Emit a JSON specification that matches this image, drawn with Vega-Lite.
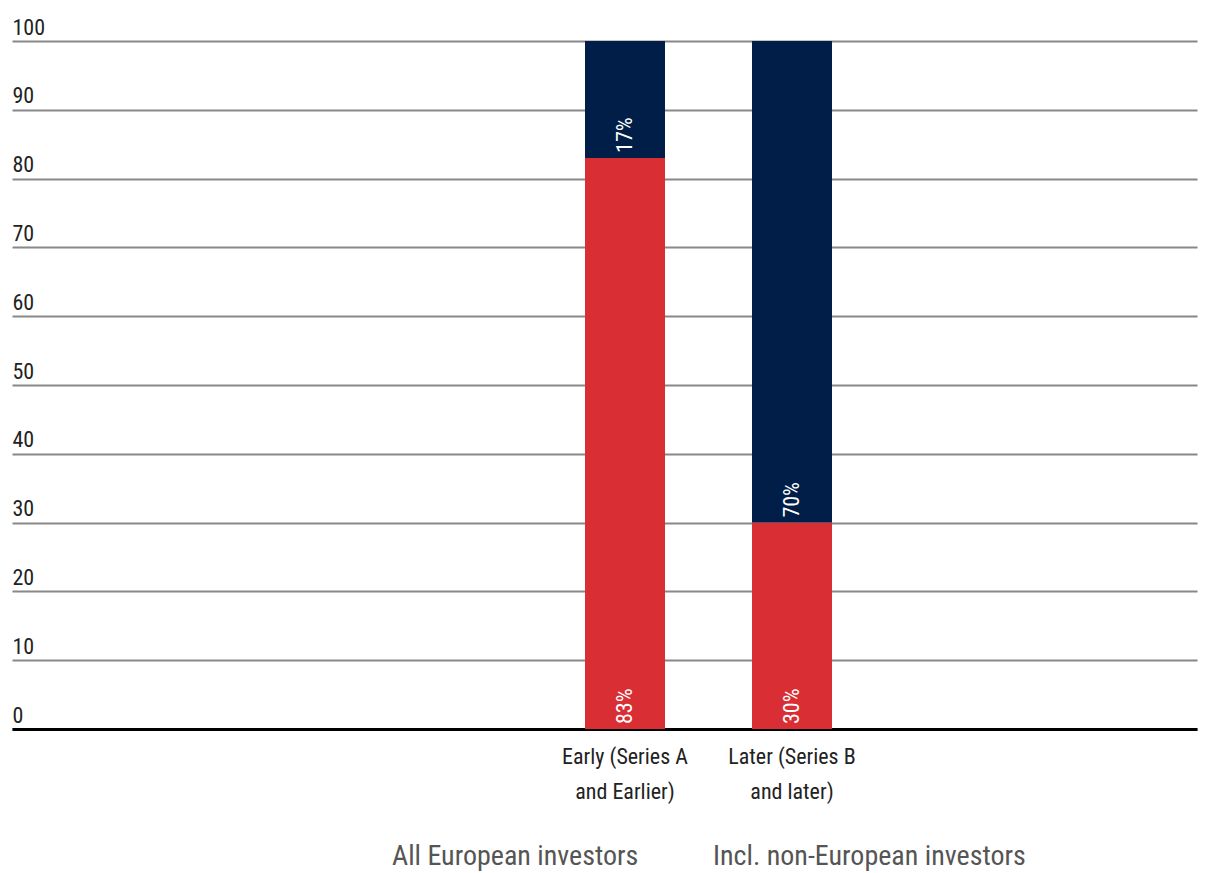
{
  "$schema": "https://vega.github.io/schema/vega-lite/v6.json",
  "width": 1185,
  "height": 688,
  "autosize": {"type": "none"},
  "padding": {"left": 12, "top": 41, "right": 13, "bottom": 144},
  "background": "white",
  "config": {
    "view": {"stroke": null},
    "font": "Liberation Sans Narrow, Roboto Condensed, Roboto, sans-serif"
  },
  "data": {
    "values": [
      {"stage": "Early (Series A and Earlier)", "group": "All European investors", "value": 83},
      {"stage": "Early (Series A and Earlier)", "group": "Incl. non-European investors", "value": 17},
      {"stage": "Later (Series B and later)", "group": "All European investors", "value": 30},
      {"stage": "Later (Series B and later)", "group": "Incl. non-European investors", "value": 70}
    ]
  },
  "encoding": {
    "x": {
      "field": "stage",
      "type": "nominal",
      "scale": {
        "domain": ["_a", "_b", "_c", "Early (Series A and Earlier)", "Later (Series B and later)", "_d", "_e"],
        "paddingInner": 0.521,
        "paddingOuter": 0.3084,
        "align": 0.699
      },
      "axis": {
        "title": null,
        "ticks": false,
        "domainColor": "#000000",
        "domainWidth": 3,
        "labelAngle": 0,
        "labelPadding": 17,
        "labelFontSize": 22,
        "labelColor": "#222222",
        "labelLineHeight": 35,
        "labelBaseline": "top",
        "labelExpr": "datum.value == 'Early (Series A and Earlier)' ? ['Early (Series A', 'and Earlier)'] : datum.value == 'Later (Series B and later)' ? ['Later (Series B', 'and later)'] : ''"
      }
    }
  },
  "layer": [
    {
      "mark": {"type": "bar"},
      "encoding": {
        "y": {
          "field": "value",
          "type": "quantitative",
          "stack": "zero",
          "scale": {"domain": [0, 100]},
          "axis": {
            "title": null,
            "domain": false,
            "ticks": false,
            "tickSize": 0,
            "values": [0, 10, 20, 30, 40, 50, 60, 70, 80, 90, 100],
            "grid": true,
            "gridColor": "#888888",
            "gridWidth": 2,
            "labelAlign": "left",
            "labelBaseline": "alphabetic",
            "labelPadding": 0,
            "labelOffset": -7,
            "labelFontSize": 22,
            "labelColor": "#222222"
          }
        },
        "color": {
          "field": "group",
          "type": "nominal",
          "scale": {
            "domain": ["All European investors", "Incl. non-European investors"],
            "range": ["#D92E33", "#001E47"]
          },
          "legend": {
            "title": null,
            "orient": "none",
            "direction": "horizontal",
            "legendX": 352,
            "legendY": 802,
            "padding": 0,
            "symbolSize": 0,
            "symbolOpacity": 0,
            "symbolStrokeWidth": 0,
            "labelOffset": 0,
            "columnPadding": 46,
            "labelFontSize": 28,
            "labelColor": "#555555",
            "labelLimit": 0
          }
        },
        "order": {"field": "group", "sort": "ascending"}
      }
    },
    {
      "transform": [
        {"stack": "value", "groupby": ["stage"], "sort": [{"field": "group", "order": "ascending"}], "as": ["v0", "v1"]},
        {"calculate": "datum.value + '%'", "as": "label"}
      ],
      "mark": {"type": "text", "angle": 270, "align": "left", "baseline": "middle", "dx": 5, "fontSize": 22, "color": "white"},
      "encoding": {
        "y": {"field": "v0", "type": "quantitative"},
        "text": {"field": "label"}
      }
    }
  ]
}
